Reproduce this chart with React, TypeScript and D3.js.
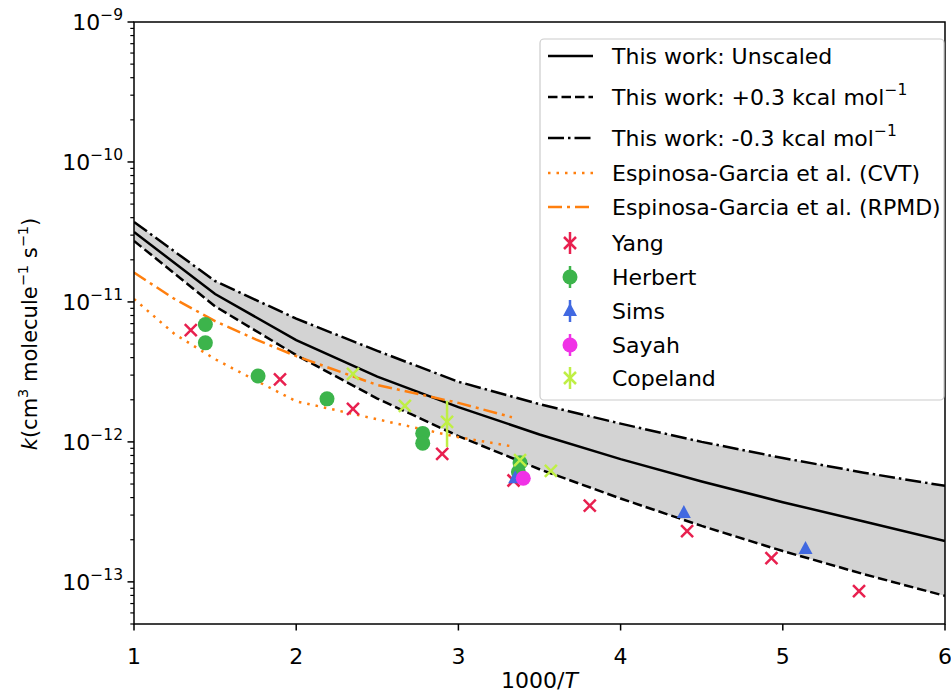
import React from "react";
import * as d3 from "d3";

// 1000/T grid of the computed curves
const invT = [1, 1.5, 2, 2.5, 3, 3.5, 4, 4.5, 5, 5.5, 6];
const kUnscaled = [3.16e-11, 1.14e-11, 5.33e-12, 2.93e-12, 1.77e-12, 1.13e-12, 7.53e-13, 5.21e-13, 3.71e-13, 2.7e-13, 1.96e-13];
const kPlus = [2.73e-11, 9.3e-12, 4.17e-12, 2.04e-12, 1.1e-12, 6.38e-13, 3.94e-13, 2.51e-13, 1.66e-13, 1.135e-13, 7.94e-14];
const kMinus = [3.73e-11, 1.41e-11, 7.59e-12, 4.47e-12, 2.69e-12, 1.86e-12, 1.35e-12, 1.0e-12, 7.67e-13, 6.03e-13, 4.85e-13];

const egX = [1, 1.25, 1.5, 1.75, 2, 2.5, 3, 3.33];
const egCVT = [1.05e-11, 5.9e-12, 3.9e-12, 2.75e-12, 1.95e-12, 1.45e-12, 1.08e-12, 9.3e-13];
const egRPMD = [1.62e-11, 1.05e-11, 7.3e-12, 5.4e-12, 4.1e-12, 2.55e-12, 1.9e-12, 1.5e-12];

const yangX = [1.35, 1.9, 2.35, 2.9, 3.34, 3.81, 4.41, 4.93, 5.47];
const yangK = [6.3e-12, 2.8e-12, 1.72e-12, 8.2e-13, 5.3e-13, 3.5e-13, 2.3e-13, 1.48e-13, 8.6e-14];
const herbertX = [1.44, 1.44, 1.765, 2.19, 2.78, 2.78, 3.38, 3.37];
const herbertK = [6.9e-12, 5.1e-12, 2.96e-12, 2.03e-12, 1.15e-12, 9.8e-13, 7.1e-13, 6.1e-13];
const simsX = [3.35, 4.39, 5.14];
const simsK = [5.5e-13, 3.1e-13, 1.72e-13];
const sayahX = [3.4];
const sayahK = [5.5e-13];
const copelandX = [2.35, 2.67, 2.93, 3.38, 3.57];
const copelandK = [3.06e-12, 1.81e-12, 1.39e-12, 7.4e-13, 6.2e-13];
const copelandLo = [3.06e-12, 1.81e-12, 9.2e-13, 7.4e-13, 6.2e-13];
const copelandHi = [3.06e-12, 1.81e-12, 1.97e-12, 7.4e-13, 6.2e-13];

const xTicks = [1, 2, 3, 4, 5, 6];
const yTickExp = [-13, -12, -11, -10, -9];

const W = 951, H = 694;
const L = 134, R = 945, T = 22, B = 624;
const FONT = "DejaVu Sans, sans-serif";
const FS = 22;
const SUP = 15.5;
const ORANGE = "#ff7f0e";

const x = d3.scaleLinear().domain([1, 6]).range([L, R]);
const y = d3.scaleLog().domain([5e-14, 1e-9]).range([B, T]);

const line = d3
  .line<[number, number]>()
  .x((d) => x(d[0]))
  .y((d) => y(d[1]));

const zip = (a: number[], b: number[]) => a.map((v, i) => [v, b[i]] as [number, number]);

const Marker = ({ kind, color, cx, cy }: { kind: string; color: string; cx: number; cy: number }) => {
  if (kind === "x") {
    const s = 6;
    return (
      <path
        d={`M${cx - s},${cy - s}L${cx + s},${cy + s}M${cx - s},${cy + s}L${cx + s},${cy - s}`}
        stroke={color}
        strokeWidth={2.5}
      />
    );
  }
  if (kind === "^") {
    return <path d={`M${cx},${cy - 8}L${cx + 7},${cy + 5}L${cx - 7},${cy + 5}Z`} fill={color} />;
  }
  return <circle cx={cx} cy={cy} r={7.5} fill={color} />;
};

const series = [
  { name: "Yang", kind: "x", color: "#e8204f", xs: yangX, ks: yangK },
  { name: "Herbert", kind: "o", color: "#3cb44b", xs: herbertX, ks: herbertK },
  { name: "Sims", kind: "^", color: "#4169e1", xs: simsX, ks: simsK },
  { name: "Sayah", kind: "o", color: "#f032e6", xs: sayahX, ks: sayahK },
  { name: "Copeland", kind: "x", color: "#bfef45", xs: copelandX, ks: copelandK },
];

export default function App() {
  const area = d3
    .area<number>()
    .x((_, i) => x(invT[i]))
    .y0((_, i) => y(kPlus[i]))
    .y1((_, i) => y(kMinus[i]));

  const minors: number[] = [];
  for (let e = -14; e < -9; e++) {
    for (let m = 2; m <= 9; m++) {
      const v = m * Math.pow(10, e);
      if (v >= 5e-14 && v <= 1e-9) minors.push(v);
    }
  }

  const legendLines = [
    { label: "This work: Unscaled", dash: "", color: "#000", sup: "" },
    { label: "This work: +0.3 kcal mol", dash: "9.5,4", color: "#000", sup: "\u22121" },
    { label: "This work: -0.3 kcal mol", dash: "16,4,2.5,4", color: "#000", sup: "\u22121" },
    { label: "Espinosa-Garcia et al. (CVT)", dash: "2.5,6", color: ORANGE, sup: "" },
    { label: "Espinosa-Garcia et al. (RPMD)", dash: "14,5,3,5", color: ORANGE, sup: "" },
  ];
  const lineRowsY = [56, 97, 138, 173, 207];
  const markRowsY = [243, 277, 311, 345, 378];

  return (
    <svg width={W} height={H} style={{ position: "absolute", left: 0, top: 0, background: "#fff" }} fontFamily={FONT}>
      <defs>
        <clipPath id="plot">
          <rect x={L} y={T} width={R - L} height={B - T} />
        </clipPath>
      </defs>
      <rect x={0} y={0} width={W} height={H} fill="#fff" />
      <g clipPath="url(#plot)">
        <path d={area(invT) || ""} fill="#d3d3d3" />
        <path d={line(zip(invT, kUnscaled)) || ""} fill="none" stroke="#000" strokeWidth={2.5} />
        <path d={line(zip(invT, kPlus)) || ""} fill="none" stroke="#000" strokeWidth={2.5} strokeDasharray="9.5,4" />
        <path d={line(zip(invT, kMinus)) || ""} fill="none" stroke="#000" strokeWidth={2.5} strokeDasharray="16,4,2.5,4" />
        <path d={line(zip(egX, egCVT)) || ""} fill="none" stroke={ORANGE} strokeWidth={2.5} strokeDasharray="2.5,6" />
        <path d={line(zip(egX, egRPMD)) || ""} fill="none" stroke={ORANGE} strokeWidth={2.5} strokeDasharray="14,5,3,5" />
        {copelandX.map((v, i) => (
          <line key={"eb" + i} x1={x(v)} x2={x(v)} y1={y(copelandLo[i])} y2={y(copelandHi[i])} stroke="#bfef45" strokeWidth={2.5} />
        ))}
        {series.map((s) =>
          s.xs.map((v, i) => <Marker key={s.name + i} kind={s.kind} color={s.color} cx={x(v)} cy={y(s.ks[i])} />)
        )}
      </g>

      {/* axes frame */}
      <rect x={L} y={T} width={R - L} height={B - T} fill="none" stroke="#000" strokeWidth={1.5} />
      {xTicks.map((t) => (
        <g key={"xt" + t}>
          <line x1={x(t)} x2={x(t)} y1={B} y2={B + 6.5} stroke="#000" strokeWidth={1.5} />
          <text x={x(t)} y={B + 40} textAnchor="middle" fontSize={FS}>{t}</text>
        </g>
      ))}
      {minors.map((v, i) => (
        <line key={"my" + i} x1={L - 3.7} x2={L} y1={y(v)} y2={y(v)} stroke="#000" strokeWidth={1.2} />
      ))}
      {yTickExp.map((e) => (
        <g key={"yt" + e}>
          <line x1={L - 6.5} x2={L} y1={y(Math.pow(10, e))} y2={y(Math.pow(10, e))} stroke="#000" strokeWidth={1.5} />
          <text x={L - 11} y={y(Math.pow(10, e)) + 8} textAnchor="end" fontSize={FS}>
            10<tspan dy={-10} fontSize={SUP}>{"\u2212" + -e}</tspan>
          </text>
        </g>
      ))}
      <text x={(L + R) / 2} y={688} textAnchor="middle" fontSize={FS}>
        1000/<tspan fontStyle="italic">T</tspan>
      </text>
      <text transform="translate(37,334) rotate(-90)" textAnchor="middle" fontSize={21}>
        <tspan fontStyle="italic">k</tspan>
        <tspan>(cm</tspan>
        <tspan dy={-9} fontSize={14.5}>3</tspan>
        <tspan dy={9}> molecule</tspan>
        <tspan dy={-9} fontSize={14.5}>{"\u22121"}</tspan>
        <tspan dy={9}> s</tspan>
        <tspan dy={-9} fontSize={14.5}>{"\u22121"}</tspan>
        <tspan dy={9}>)</tspan>
      </text>

      {/* legend */}
      <rect x={540} y={39} width={404} height={361} rx={4} fill="#fff" fillOpacity={0.8} stroke="#cccccc" strokeWidth={1.2} />
      {legendLines.map((l, i) => (
        <g key={"ll" + i}>
          <line x1={548} x2={593} y1={lineRowsY[i]} y2={lineRowsY[i]} stroke={l.color} strokeWidth={2.5} strokeDasharray={l.dash || undefined} />
          <text x={612} y={lineRowsY[i] + 8} fontSize={FS}>
            {l.label}
            {l.sup && <tspan dy={-10} fontSize={SUP}>{l.sup}</tspan>}
          </text>
        </g>
      ))}
      {series.map((s, i) => (
        <g key={"lm" + i}>
          <line x1={570} x2={570} y1={markRowsY[i] - 11} y2={markRowsY[i] + 11} stroke={s.color} strokeWidth={2.5} />
          <Marker kind={s.kind} color={s.color} cx={570} cy={markRowsY[i]} />
          <text x={612} y={markRowsY[i] + 8} fontSize={FS}>{s.name}</text>
        </g>
      ))}
    </svg>
  );
}
